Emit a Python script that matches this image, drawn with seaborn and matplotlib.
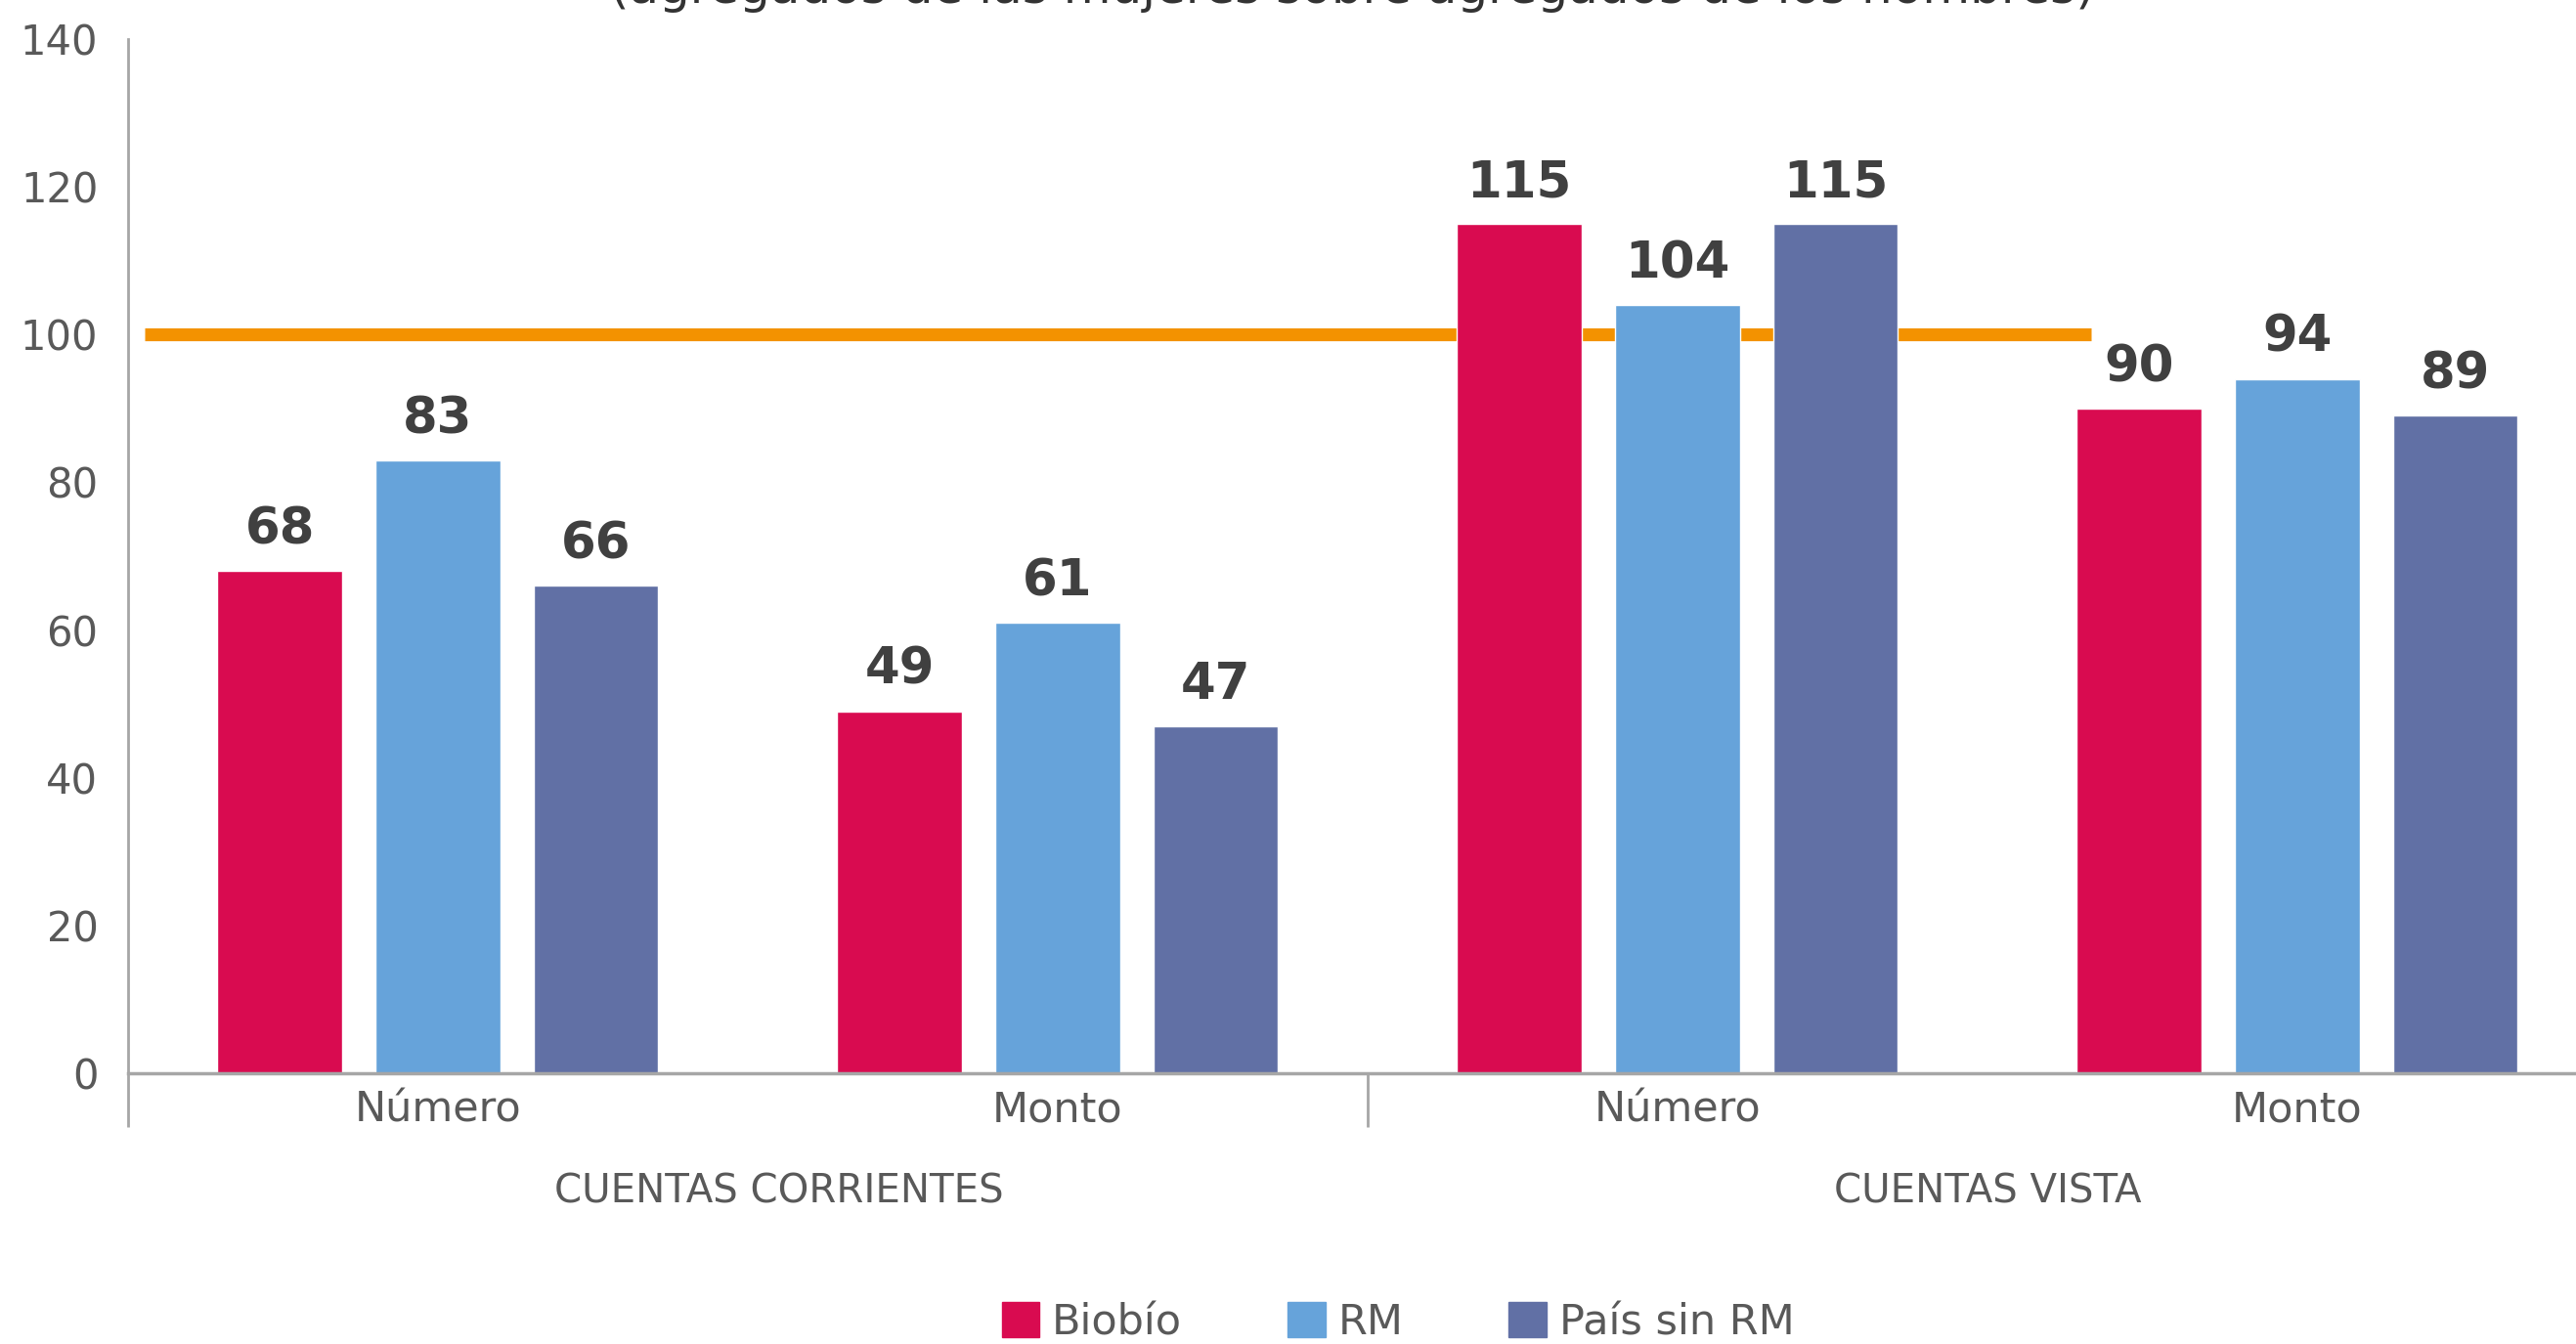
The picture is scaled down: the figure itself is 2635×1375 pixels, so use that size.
import matplotlib
matplotlib.use("Agg")
import matplotlib.pyplot as plt
import matplotlib.transforms as mtransforms
import seaborn as sns
import pandas as pd

sns.set_theme(style="white")
plt.rcParams["font.family"] = ["DejaVu Sans"]

# data
cat_ids = ["cc_num", "cc_monto", "cv_num", "cv_monto"]
cat_labels = ["Número", "Monto", "Número", "Monto"]
group_labels = ["CUENTAS CORRIENTES", "CUENTAS VISTA"]
series = ["Biobío", "RM", "País sin RM"]
biobio = [68, 49, 115, 90]
rm = [83, 61, 104, 94]
pais_sin_rm = [66, 47, 115, 89]
ref_level = 100
colors = ["#D90B50", "#66A3DA", "#6170A5"]

df = pd.DataFrame({
    "cat": cat_ids * 3,
    "serie": [s for s in series for _ in cat_ids],
    "valor": biobio + rm + pais_sin_rm,
})

fig = plt.figure(figsize=(26.35, 13.75), dpi=100)
ax = fig.add_axes([0.0497, 0.2015, 0.9503, 0.7694])

# reference line at 100, behind the bars
ax.hlines(ref_level, -0.473, 2.667, color="#F39200", linewidth=9.5, zorder=1)

sns.barplot(data=df, x="cat", y="valor", hue="serie", order=cat_ids,
            hue_order=series, palette=colors, width=0.765, gap=0.21,
            saturation=1, ax=ax, zorder=2, legend=False)

for cont in ax.containers:
    ax.bar_label(cont, fmt="%.0f", padding=12, fontsize=37,
                 fontweight="bold", color="#404040")

ax.set_ylim(0, 140)
ax.set_xlim(-0.5, 3.45)
ax.set_yticks(range(0, 141, 20))
ax.set_xticks(range(len(cat_ids)))
ax.set_xticklabels(cat_labels)
ax.tick_params(axis="y", length=0, pad=22, labelsize=30, labelcolor="#595959")
ax.tick_params(axis="x", length=0, pad=12, labelsize=31, labelcolor="#595959")
ax.set_xlabel("")
ax.set_ylabel("")

sns.despine(ax=ax, top=True, right=True)
ax.spines["left"].set_color("#A6A6A6")
ax.spines["left"].set_linewidth(2)
ax.spines["bottom"].set_color("#A6A6A6")
ax.spines["bottom"].set_linewidth(2.5)

# group separators and group labels below the axis
trans = mtransforms.blended_transform_factory(ax.transData, ax.transAxes)
ax.vlines([-0.5, 1.5], -0.052, 0, transform=trans, color="#A6A6A6",
          linewidth=2, clip_on=False)
ax.text(0.55, -0.115, group_labels[0], transform=trans, ha="center",
        va="center", fontsize=29, color="#595959")
ax.text(2.5, -0.115, group_labels[1], transform=trans, ha="center",
        va="center", fontsize=29, color="#595959")

ax.set_title("(agregados de las mujeres sobre agregados de los hombres)",
             fontsize=36, color="#333333", pad=27)

handles = [plt.Rectangle((0, 0), 1, 1, color=c) for c in colors]
fig.legend(handles, series, loc="center", bbox_to_anchor=(0.5427, 0.016),
           ncol=3, frameon=False, fontsize=31, handlelength=0.9,
           handleheight=0.9, handletextpad=0.3, columnspacing=2.5,
           labelcolor="#595959")

fig.savefig("out.png", dpi=100)
